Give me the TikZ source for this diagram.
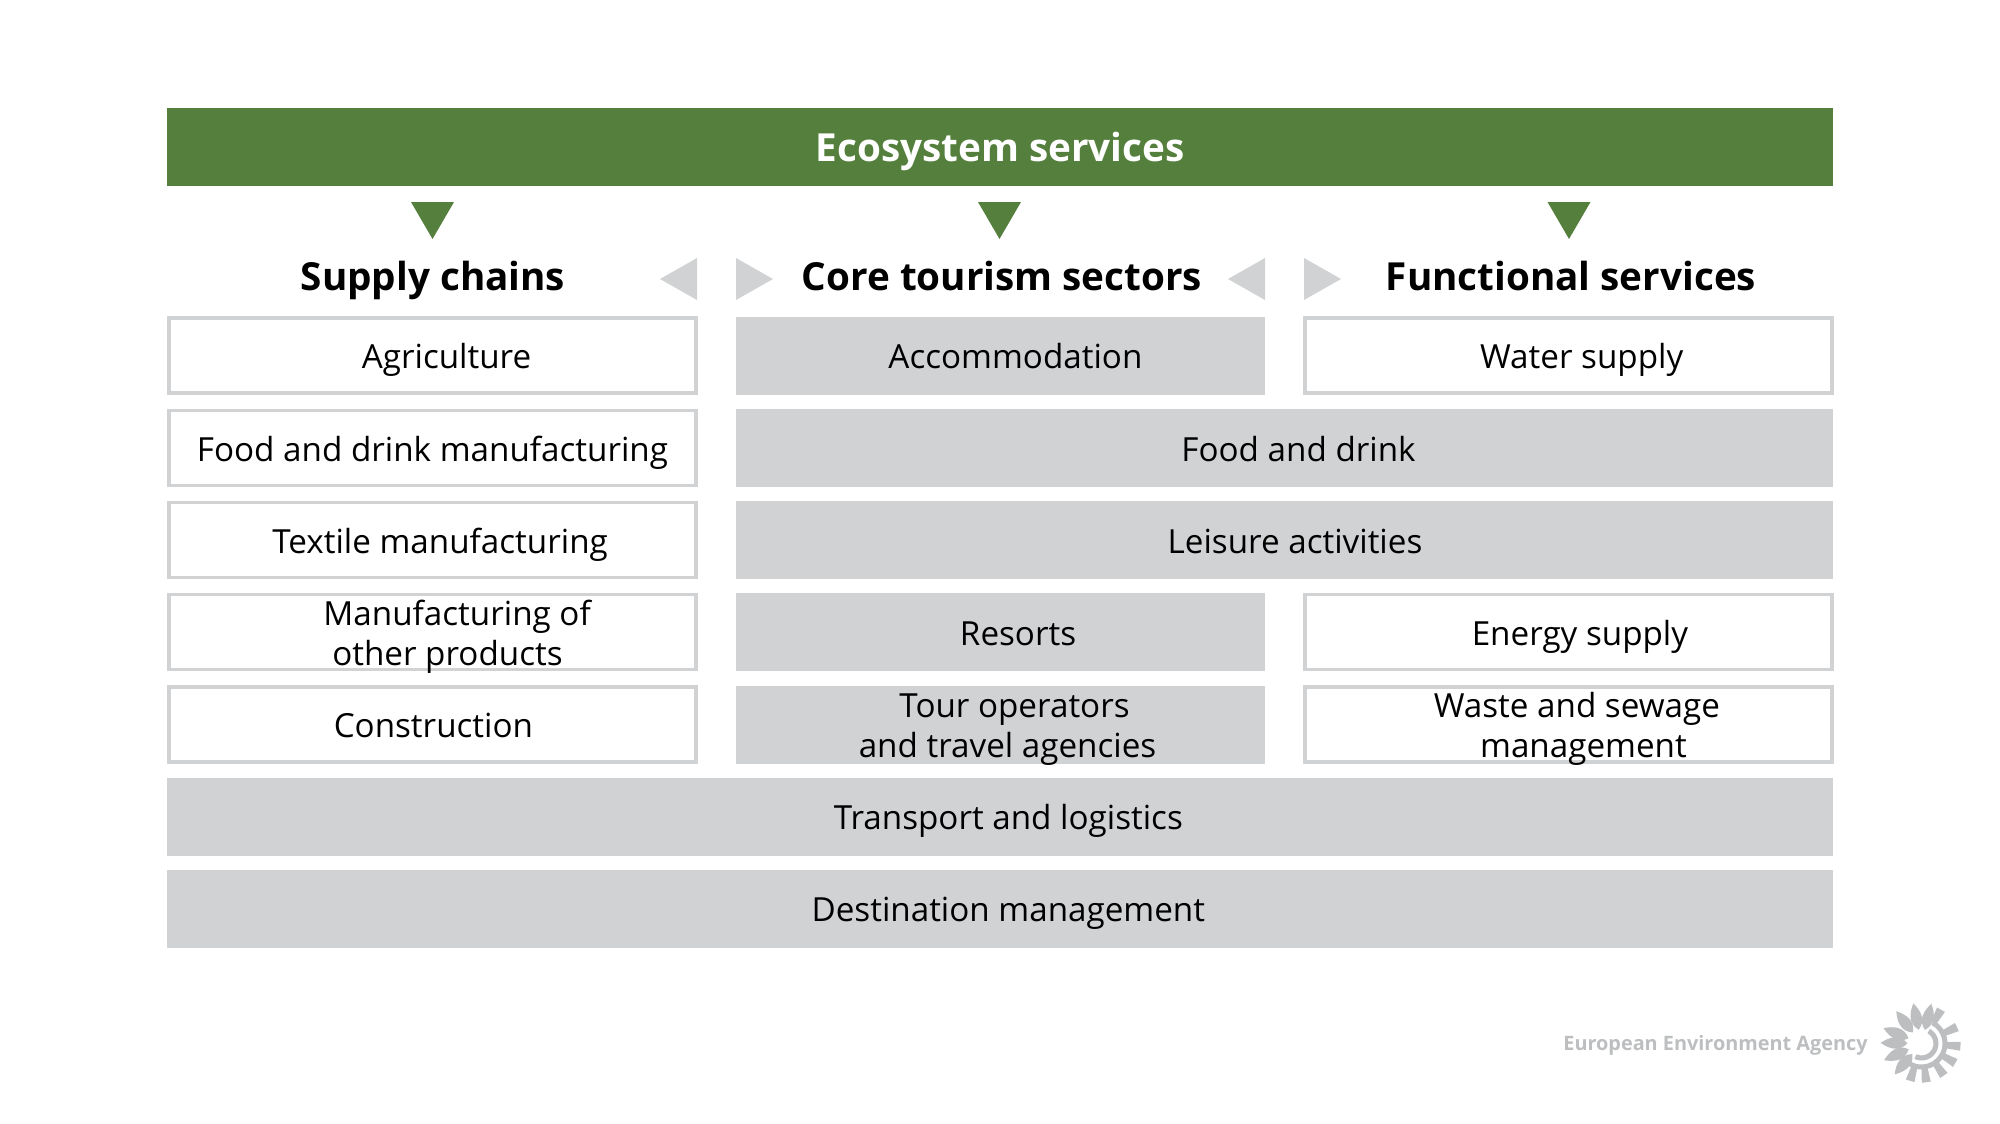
\documentclass[tikz,border=0pt]{standalone}
\usepackage{fontspec}
\setmainfont{Open Sans}
\usepackage{xcolor}
\definecolor{eeagreen}{HTML}{557F3C}
\definecolor{eeagrey}{HTML}{D0D2D3}
\definecolor{eealogo}{HTML}{BCBEC0}

\begin{document}
\begin{tikzpicture}[
    x=0.02cm, y=-0.02cm,
    box/.style={minimum height=1.56cm, inner sep=0pt, align=center,
                text height=0.66cm, text depth=0.14cm, font=\fontsize{18.9}{22.8}\selectfont},
    twolines/.style={text height=1.325cm, text depth=0cm},
    whitebox/.style={box, draw=eeagrey, line width=0.07cm, minimum height=1.5cm, minimum width=10.54cm},
    greybox/.style={box, fill=eeagrey},
    head/.style={inner sep=0pt, text height=0.76cm, text depth=0.2cm, font=\fontsize{22}{28}\selectfont\bfseries},
    down/.style={fill=eeagreen},
    side/.style={fill=eeagrey}
  ]
  \useasboundingbox (0,0) rectangle (2000,1123);

  % Top bar
  \node[box, fill=eeagreen, text=white, minimum width=33.32cm, minimum height=1.56cm,
        text height=0.715cm, text depth=0.14cm,
        font=\fontsize{22}{28}\selectfont\bfseries] (eco) at (1000,147) {Ecosystem services};

  % Arrows from the bar
  \foreach \x in {432.5,999.5,1569} {
    \fill[down] (\x-21.5,202) -- (\x+21.5,202) -- (\x,239) -- cycle;
  }

  % Headings
  \node[head] (supply) at (433,276) {Supply chains};
  \node[head] (core) at (1002,276) {Core tourism sectors};
  \node[head] (func) at (1571,276) {Functional services};

  % Arrows between the columns
  \foreach \x in {697,1265} {
    \fill[side] (\x,258) -- (\x,300) -- (\x-37,279) -- cycle;
  }
  \foreach \x in {736,1304} {
    \fill[side] (\x,258) -- (\x,300) -- (\x+37,279) -- cycle;
  }

  % Supply chains
  \node[whitebox] (agri) at (432.5,355.5) {\hspace*{16pt}Agriculture};
  \node[whitebox] (food) at (432.5,448) {Food and drink manufacturing};
  \node[whitebox] (textile) at (432.5,540) {\hspace*{8.7pt}Textile manufacturing};
  \node[whitebox, twolines] (other) at (432.5,632) {\hspace*{28pt}Manufacturing of\\\hspace*{17pt}other products};
  \node[whitebox] (constr) at (432.5,724.5) {\hspace*{1pt}Construction};

  % Core tourism sectors
  \node[greybox, minimum width=10.6cm] (accom) at (1000.5,355.5) {\hspace*{17pt}Accommodation};
  \node[greybox, minimum width=21.94cm] (fooddrink) at (1284.5,448) {\hspace*{16pt}Food and drink};
  \node[greybox, minimum width=21.94cm] (leisure) at (1284.5,540) {\hspace*{12pt}Leisure activities};
  \node[greybox, minimum width=10.6cm] (resorts) at (1000.5,632) {\hspace*{20pt}Resorts};
  \node[greybox, twolines, minimum width=10.6cm] (tour) at (1000.5,724.5) {\hspace*{16pt}Tour operators\\\hspace*{8pt}and travel agencies};

  % Functional services
  \node[whitebox] (water) at (1568.5,355.5) {\hspace*{15pt}Water supply};
  \node[whitebox] (energy) at (1568.5,632) {\hspace*{13pt}Energy supply};
  \node[whitebox, twolines] (waste) at (1568.5,724.5) {\hspace*{9.5pt}Waste and sewage\\\hspace*{17pt}management};

  % Bottom rows
  \node[greybox, minimum width=33.32cm] (transport) at (1000,816.5) {\hspace*{9.5pt}Transport and logistics};
  \node[greybox, minimum width=33.32cm] (dest) at (1000,908.5) {\hspace*{9.5pt}Destination management};

  % Logo
  \node[inner sep=0pt, text=eealogo, font=\fontsize{11.3}{14}\selectfont\bfseries, anchor=east] (eea) at (1868,1045) {European Environment Agency};
  \begin{scope}[shift={(1921.5,1043.5)}, x=0.02cm, y=0.02cm]
    \foreach \a in {76,101.5,128,158,179,204,229} {
      \fill[eealogo, rotate=\a] (14,0) .. controls (22,9) and (32,6) .. (41,0) .. controls (32,-6) and (22,-9) .. (14,0) -- cycle;
    }
    \foreach \a in {60,25,-4,-30,-55,-83,-107} {
      \fill[eealogo, rotate=\a] (24,-3) -- (39,-4.5) -- (39,4.5) -- (24,3) -- cycle;
    }
    \fill[eealogo] (62:21) arc (62:-125:21) -- (-125:26) arc (-125:62:26) -- cycle;
    \fill[eealogo] (60:12) arc (60:-115:12) -- (-115:17) arc (-115:60:17) -- cycle;
  \end{scope}
\end{tikzpicture}
\end{document}
